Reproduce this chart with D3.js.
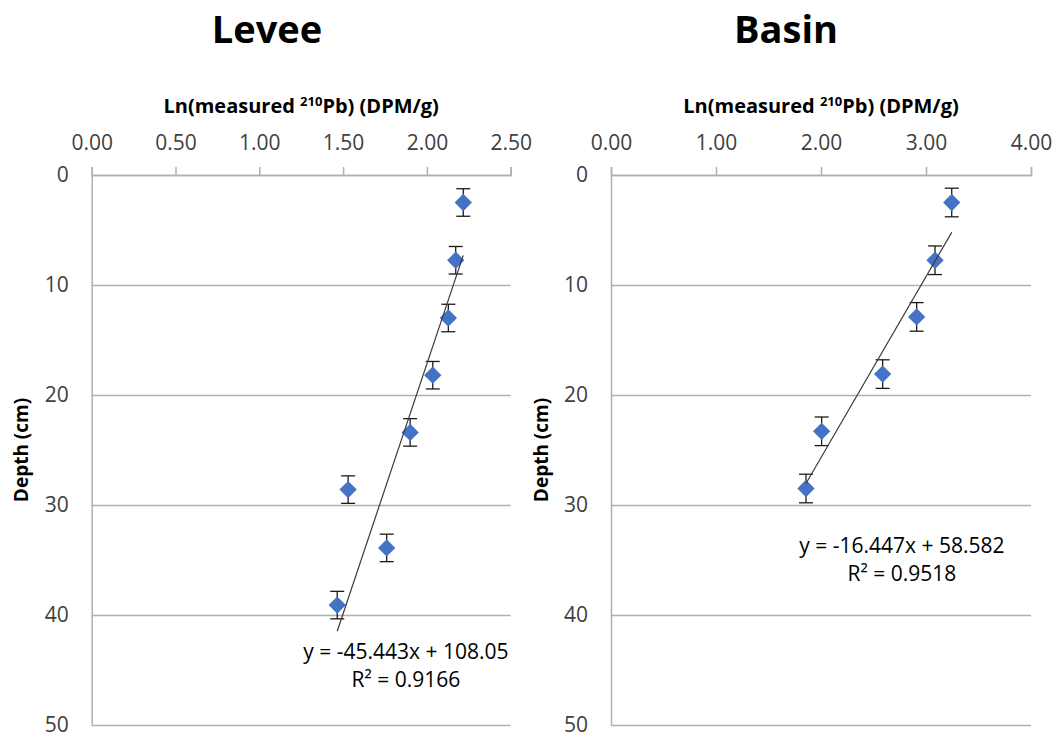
<!DOCTYPE html>
<html lang="en">
<head>
<meta charset="UTF-8">
<title>210Pb profiles - Levee and Basin</title>
<script src="https://d3js.org/d3.v7.min.js"></script>
<style>
  body { margin: 0; background: #fff; }
  svg { display: block; font-family: "Open Sans", sans-serif; }
</style>
</head>
<body>
<div id="chart"></div>
<script>
const width = 1056;
const height = 735;

// Levee core
const leveeLnPb = [2.217, 2.172, 2.128, 2.035, 1.90, 1.53, 1.76, 1.465];
const leveeDepth = [2.5, 7.75, 13, 18.2, 23.4, 28.6, 33.9, 39.1];
const leveeErr = [1.25, 1.25, 1.25, 1.25, 1.25, 1.25, 1.25, 1.25];
const leveeFit = [-45.443, 108.05];
const leveeR2 = 0.9166;
const leveeXTicks = [0, 0.5, 1.0, 1.5, 2.0, 2.5];

// Basin core
const basinLnPb = [3.245, 3.086, 2.911, 2.587, 2.006, 1.857];
const basinDepth = [2.5, 7.75, 12.9, 18.1, 23.3, 28.5];
const basinErr = [1.3, 1.3, 1.3, 1.3, 1.3, 1.3];
const basinFit = [-16.447, 58.582];
const basinR2 = 0.9518;
const basinXTicks = [0, 1, 2, 3, 4];

const depthTicks = [0, 10, 20, 30, 40, 50];

const svg = d3.select("#chart")
    .append("svg")
    .attr("width", width)
    .attr("height", height);

const gridColor = "#b0b0b0";
const blue = "#4472C4";

function drawPanel(p) {
    const x = d3.scaleLinear().domain(d3.extent(p.xTicks)).range([p.left, p.right]);
    const y = d3.scaleLinear().domain([0, 50]).range([175, 725]);
    const g = svg.append("g");

    // title
    g.append("text")
        .attr("x", p.titleX)
        .attr("y", 43)
        .attr("text-anchor", "middle")
        .style("font-size", "38px")
        .style("font-weight", "bold")
        .attr("fill", "#000")
        .text(p.title);

    // x axis title with superscript
    const xt = g.append("text")
        .attr("x", (p.left + p.right) / 2)
        .attr("y", 113)
        .attr("text-anchor", "middle")
        .style("font-size", "20px")
        .style("font-weight", "bold")
        .attr("fill", "#000");
    xt.append("tspan").text("Ln(measured ");
    xt.append("tspan").attr("dy", -7).style("font-size", "13px").text("210");
    xt.append("tspan").attr("dy", 7).text("Pb) (DPM/g)");

    // y axis with gridlines
    const yAxis = g.append("g")
        .attr("transform", `translate(${p.left},0)`)
        .call(d3.axisLeft(y).tickValues(depthTicks).tickSize(-(p.right - p.left)).tickSizeOuter(0).tickPadding(23));
    yAxis.select(".domain").attr("stroke", gridColor).attr("stroke-width", 1.5);
    yAxis.selectAll(".tick line").attr("stroke", gridColor).attr("stroke-width", 1.5);
    yAxis.selectAll(".tick text")
        .style("font-size", "21px")
        .style("font-family", "'Open Sans', sans-serif")
        .attr("fill", "#404040");

    // top x axis
    const xAxis = g.append("g")
        .attr("transform", "translate(0,175)")
        .call(d3.axisTop(x).tickValues(p.xTicks).tickFormat(d3.format(".2f")).tickSize(8).tickSizeOuter(8).tickPadding(17));
    xAxis.select(".domain").attr("stroke", gridColor).attr("stroke-width", 1.5);
    xAxis.selectAll(".tick line").attr("stroke", gridColor).attr("stroke-width", 1.5);
    xAxis.selectAll(".tick text")
        .style("font-size", "21px")
        .style("font-family", "'Open Sans', sans-serif")
        .attr("fill", "#404040");

    // y axis title
    g.append("text")
        .attr("transform", `translate(${p.left - 70},${y(25)}) rotate(-90)`)
        .attr("text-anchor", "middle")
        .attr("dy", "0.35em")
        .style("font-size", "19px")
        .style("font-weight", "bold")
        .attr("fill", "#000")
        .text("Depth (cm)");

    const pts = p.lnPb.map((v, i) => ({ v: v, d: p.depth[i], e: p.err[i] }));

    // error bars
    const eb = g.append("g").attr("stroke", "#1a1a1a").attr("stroke-width", 1.3);
    pts.forEach(o => {
        eb.append("line")
            .attr("x1", x(o.v)).attr("x2", x(o.v))
            .attr("y1", y(o.d - o.e)).attr("y2", y(o.d + o.e));
        [o.d - o.e, o.d + o.e].forEach(dd => {
            eb.append("line")
                .attr("x1", x(o.v) - 7).attr("x2", x(o.v) + 7)
                .attr("y1", y(dd)).attr("y2", y(dd));
        });
    });

    // markers
    g.selectAll(".pt")
        .data(pts)
        .enter()
        .append("path")
        .attr("class", "pt")
        .attr("d", d3.symbol(d3.symbolSquare, 150))
        .attr("transform", d => `translate(${x(d.v)},${y(d.d)}) rotate(45)`)
        .attr("fill", blue);

    // linear trendline over the data range
    const [x0, x1] = d3.extent(p.lnPb);
    const fit = v => p.fit[0] * v + p.fit[1];
    g.append("line")
        .attr("x1", x(x0)).attr("y1", y(fit(x0)))
        .attr("x2", x(x1)).attr("y2", y(fit(x1)))
        .attr("stroke", "#3a3a3a")
        .attr("stroke-width", 1.2);

    // equation label
    const eq = g.append("text")
        .attr("text-anchor", "middle")
        .style("font-size", "21px")
        .attr("fill", "#000");
    eq.append("tspan")
        .attr("x", x(p.labelAt[0]))
        .attr("y", y(p.labelAt[1]))
        .text(`y = ${p.fit[0]}x + ${p.fit[1]}`);
    eq.append("tspan")
        .attr("x", x(p.labelAt[0]))
        .attr("y", y(p.labelAt[1]) + 28)
        .text(`R² = ${p.r2}`);
}

drawPanel({
    title: "Levee", titleX: 267,
    left: 91.7, right: 510.7,
    xTicks: leveeXTicks,
    lnPb: leveeLnPb, depth: leveeDepth, err: leveeErr,
    fit: leveeFit, r2: leveeR2,
    labelAt: [1.875, 44.0]
});

drawPanel({
    title: "Basin", titleX: 786,
    left: 611, right: 1031,
    xTicks: basinXTicks,
    lnPb: basinLnPb, depth: basinDepth, err: basinErr,
    fit: basinFit, r2: basinR2,
    labelAt: [2.77, 34.4]
});
</script>
</body>
</html>
